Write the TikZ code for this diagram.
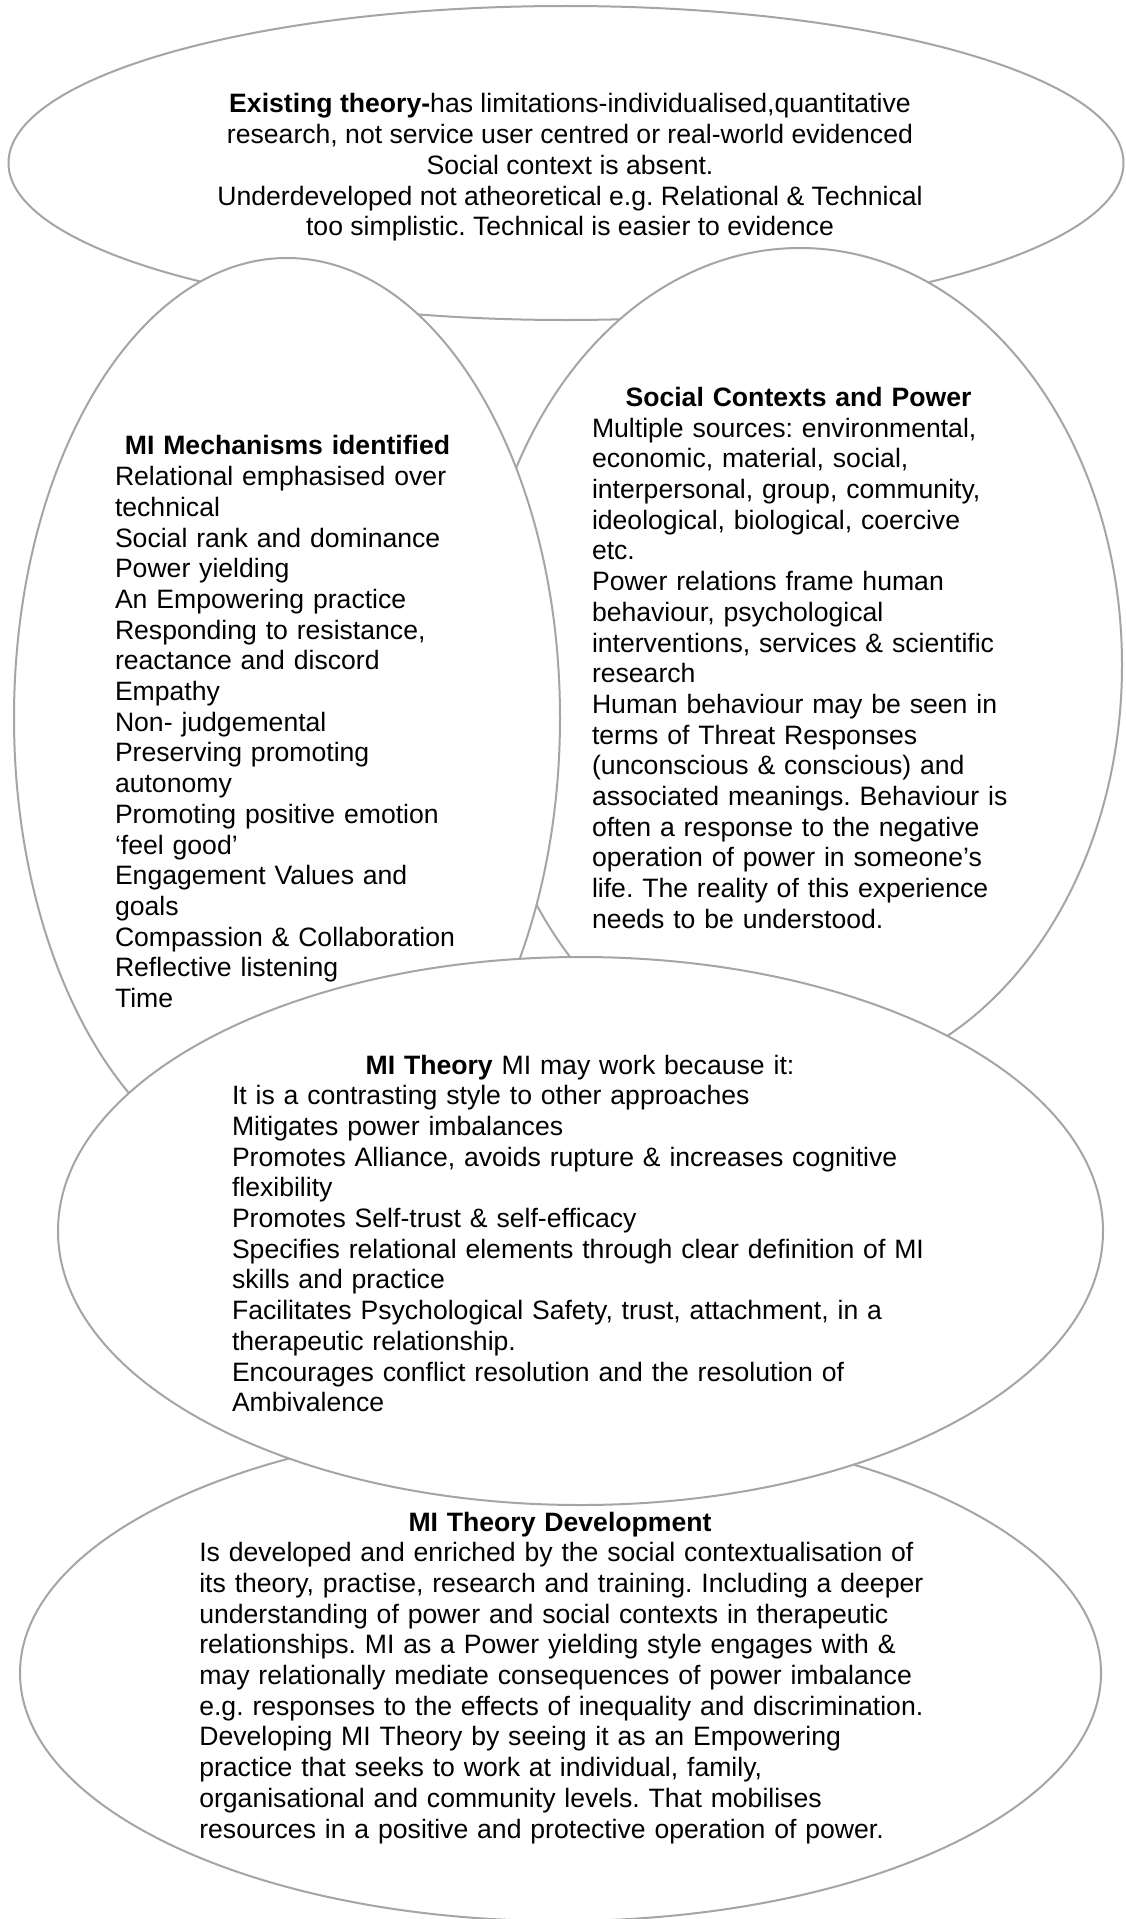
\documentclass[tikz,border=0pt]{standalone}
\usepackage{fontspec}
\setmainfont{Liberation Sans}
\usetikzlibrary{shapes.geometric}
\definecolor{edgegray}{RGB}{165,165,165}
\begin{document}
\frenchspacing
\begin{tikzpicture}[x=1pt,y=-1pt,
  blob/.style={ellipse, draw=edgegray, line width=2pt, fill=white, inner sep=0pt, outer sep=0pt},
  txt/.style={inner sep=0pt, outer sep=0pt, font=\fontsize{26.6}{30.7}\selectfont, text=black}]
\useasboundingbox (0,0) rectangle (1126,1919);
\fill[white] (0,0) rectangle (1126,1919);
% ellipses (back to front)
\node[blob, minimum width=1115pt, minimum height=314pt] (topE) at (566,163) {};
\node[blob, minimum width=644pt, minimum height=834pt] (rightE) at (800,665) {};
\node[blob, minimum width=546pt, minimum height=920pt] (leftE) at (287,718) {};
\node[blob, minimum width=1081pt, minimum height=496pt] (bottomE) at (560.5,1673) {};
\node[blob, minimum width=1045pt, minimum height=548pt] (theoryE) at (580.5,1231) {};
% texts
\node[txt, align=center, anchor=north] (topT) at (570,91.5) {\strut\textbf{Existing theory-}has limitations-individualised,quantitative\\
research, not service user centred or real-world evidenced\\
Social context is absent.\\
Underdeveloped not atheoretical e.g. Relational \& Technical\\
too simplistic. Technical is easier to evidence};
\node[txt, text width=380pt, align=left, anchor=north west] (mechT) at (115,433.5) {\strut\makebox[345pt][c]{\textbf{MI Mechanisms identified}}\\
Relational emphasised over\\
technical\\
Social rank and dominance\\
Power yielding\\
An Empowering practice\\
Responding to resistance,\\
reactance and discord\\
Empathy\\
Non- judgemental\\
Preserving promoting\\
autonomy\\
Promoting positive emotion\\
‘feel good’\\
Engagement Values and\\
goals\\
Compassion \& Collaboration\\
Reflective listening\\
Time};
\node[txt, text width=460pt, align=left, anchor=north west] (socT) at (592,385) {\strut\makebox[413pt][c]{\textbf{Social Contexts and Power}}\\
Multiple sources: environmental,\\
economic, material, social,\\
interpersonal, group, community,\\
ideological, biological, coercive\\
etc.\\
Power relations frame human\\
behaviour, psychological\\
interventions, services \& scientific\\
research\\
Human behaviour may be seen in\\
terms of Threat Responses\\
(unconscious \& conscious) and\\
associated meanings. Behaviour is\\
often a response to the negative\\
operation of power in someone’s\\
life. The reality of this experience\\
needs to be understood.};
\node[txt, text width=760pt, align=left, anchor=north west] (theoryT) at (232,1052.5) {\strut\makebox[696pt][c]{\textbf{MI Theory} MI may work because it:}\\
It is a contrasting style to other approaches\\
Mitigates power imbalances\\
Promotes Alliance, avoids rupture \& increases cognitive\\
flexibility\\
Promotes Self-trust \& self-efficacy\\
Specifies relational elements through clear definition of MI\\
skills and practice\\
Facilitates Psychological Safety, trust, attachment, in a\\
therapeutic relationship.\\
Encourages conflict resolution and the resolution of\\
Ambivalence};
\node[txt, text width=780pt, align=left, anchor=north west] (devT) at (199.3,1509.5) {\strut\makebox[721.4pt][c]{\textbf{MI Theory Development}}\\
Is developed and enriched by the social contextualisation of\\
its theory, practise, research and training. Including a deeper\\
understanding of power and social contexts in therapeutic\\
relationships. MI as a Power yielding style engages with \&\\
may relationally mediate consequences of power imbalance\\
e.g. responses to the effects of inequality and discrimination.\\
Developing MI Theory by seeing it as an Empowering\\
practice that seeks to work at individual, family,\\
organisational and community levels. That mobilises\\
resources in a positive and protective operation of power.};
\end{tikzpicture}
\end{document}
